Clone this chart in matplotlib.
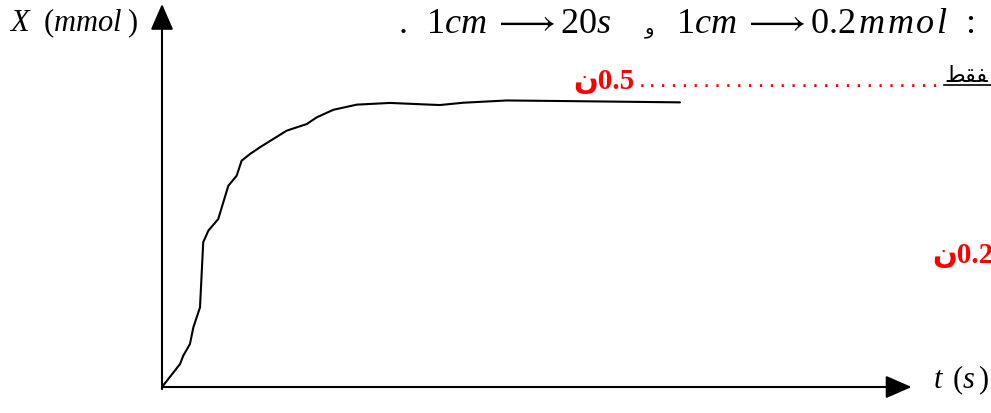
import numpy as np
import matplotlib
matplotlib.use("Agg")
import matplotlib.pyplot as plt

plt.rcParams['font.family'] = ['Liberation Serif', 'DejaVu Sans']
plt.rcParams['mathtext.fontset'] = 'custom'
plt.rcParams['mathtext.rm'] = 'Liberation Serif'
plt.rcParams['mathtext.it'] = 'Liberation Serif:italic'
plt.rcParams['mathtext.bf'] = 'Liberation Serif:bold'

# données (t en s, X en mmol)
t = [0, 9.5, 11.2, 14.7, 16.5, 20.0, 21.7, 24.4, 29.6, 34.9, 39.3, 41.9, 46.3,
     51.6, 65.6, 76.2, 81.4, 90.2, 102.5, 120.0, 141.1, 146.3, 158.4, 181.4,
     211.1, 272.6]
X = [0, 0.121, 0.165, 0.226, 0.314, 0.419, 0.762, 0.823, 0.884, 1.059, 1.112,
     1.191, 1.226, 1.262, 1.349, 1.384, 1.419, 1.459, 1.486, 1.495, 1.486,
     1.484, 1.496, 1.508, 1.505, 1.498]

W, H = 991, 414

def px(x, y):
    return x / W, 1 - y / H

fig = plt.figure(figsize=(W / 100, H / 100), dpi=100)
ax = fig.add_axes([0, 0, 1, 1])
ax.set_xlim(-85.26, 436.3)
ax.set_ylim(-0.1368, 2.042)
ax.axis('off')

# courbe
ax.plot(t, X, color='black', lw=1.5, solid_capstyle='round')

# axes avec flèches
arrow = dict(arrowstyle='-|>,head_length=1.6,head_width=0.7',
             mutation_scale=10, color='black', lw=1.5, shrinkA=0, shrinkB=0)
ax.annotate('', xy=(0, 2.016), xytext=(0, -0.011), arrowprops=arrow)
ax.annotate('', xy=(394.5, 0), xytext=(0.5, 0), arrowprops=arrow)

# textes
fig.text(*px(9, 31), r'$X\ \ (mmol\;)$', fontsize=22, va='baseline')
fig.text(*px(933, 388), r'$t\ \,(s\,)$', fontsize=22, va='baseline')

fig.text(*px(399, 33), '.', fontsize=26, va='baseline')
fig.text(*px(426, 33), r'$1cm\;\longrightarrow 20s$', fontsize=26, va='baseline')
fig.text(*px(645, 33), 'و', fontsize=14, va='baseline', family=['DejaVu Sans'])
fig.text(*px(676, 33),
         r'$1cm\;\longrightarrow 0.2\hspace{0.1}m\hspace{0.1}m\hspace{0.1}o\hspace{0.1}l$',
         fontsize=26, va='baseline')
fig.text(*px(965, 33), ':', fontsize=26, va='baseline')

red = '#ff0000'
fig.text(*px(573, 89), 'ن0.5', fontsize=21, fontweight='bold', color=red,
         va='baseline', family=['Liberation Serif', 'DejaVu Sans'])
fig.text(*px(637, 87), '.' * 28, fontsize=13, color=red, va='baseline',
         family=['DejaVu Sans Mono'])
fig.text(*px(944, 82), 'ﻂﻘﻔ', fontsize=16, va='baseline', family=['DejaVu Sans'])
fig.add_artist(plt.Line2D([944 / W, 1], [1 - 86 / H, 1 - 86 / H],
                          color='black', lw=1.2))
fig.text(*px(932, 263), 'ن0.25', fontsize=21, fontweight='bold', color=red,
         va='baseline', family=['Liberation Serif', 'DejaVu Sans'])

fig.savefig('out.png', dpi=100)
